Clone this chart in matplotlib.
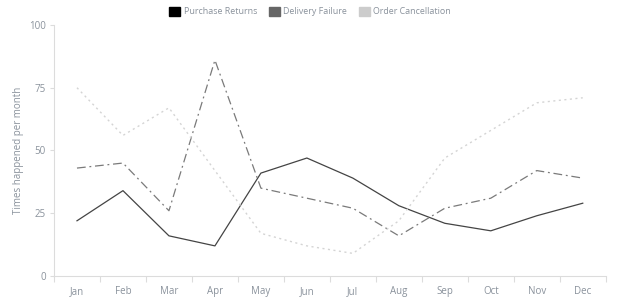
import matplotlib
matplotlib.use("Agg")
import matplotlib.pyplot as plt
from matplotlib.patches import Patch
import numpy as np

months = ['Jan', 'Feb', 'Mar', 'Apr', 'May', 'Jun', 'Jul', 'Aug', 'Sep', 'Oct', 'Nov', 'Dec']
purchase_returns = [22, 34, 16, 12, 41, 47, 39, 28, 21, 18, 24, 29]
delivery_failure = [43, 45, 26, 86, 35, 31, 27, 16, 27, 31, 42, 39]
order_cancellation = [75, 56, 67, 42, 17, 12, 9, 22, 47, 58, 69, 71]
y_ticks = [0, 25, 50, 75, 100]

text_col = '#8a929c'
axis_col = '#dcdcdc'
plt.rcParams['font.family'] = ['Open Sans', 'DejaVu Sans']

fig = plt.figure(figsize=(6.2, 3.0), dpi=100)
ax = fig.add_axes([0.0871, 0.08, 0.8899, 0.8367])

x = np.arange(len(months))
ax.plot(x, purchase_returns, color='#444444', lw=0.9)
ax.plot(x, delivery_failure, color='#7a7a7a', lw=0.9, dashes=(7, 3, 1.5, 3))
ax.plot(x, order_cancellation, color='#d4d4d4', lw=1.0, dashes=(1.5, 2.5))

ax.set_xlim(-0.5, len(months) - 0.5)
ax.set_ylim(0, 100)
ax.set_xticks(x)
ax.set_xticklabels(months)
ax.set_xticks(np.arange(-0.5, len(months), 1.0), minor=True)
ax.set_yticks(y_ticks)
ax.tick_params(axis='x', which='major', length=0, pad=7, labelsize=7, labelcolor=text_col)
ax.tick_params(axis='x', which='minor', length=4, color=axis_col, width=0.8)
ax.tick_params(axis='y', length=3, color=axis_col, width=0.8, labelsize=7, labelcolor=text_col, pad=3)

for side in ['top', 'right']:
    ax.spines[side].set_visible(False)
for side in ['left', 'bottom']:
    ax.spines[side].set_color(axis_col)
    ax.spines[side].set_linewidth(0.8)

ax.set_ylabel('Times happened per month', color=text_col, fontsize=7)
ax.yaxis.set_label_coords(-0.054, 0.5)

handles = [Patch(facecolor='#000000', edgecolor='#000000'),
           Patch(facecolor='#666666', edgecolor='#666666'),
           Patch(facecolor='#cccccc', edgecolor='#cccccc')]
fig.legend(handles, ['Purchase Returns', 'Delivery Failure', 'Order Cancellation'],
           loc='upper center', bbox_to_anchor=(0.5, 1.005), ncol=3, frameon=False,
           fontsize=6.4, labelcolor=text_col, handlelength=1.3, handleheight=1.3,
           handletextpad=0.35, columnspacing=1.3)

fig.savefig('out.png', dpi=100, facecolor='white')
